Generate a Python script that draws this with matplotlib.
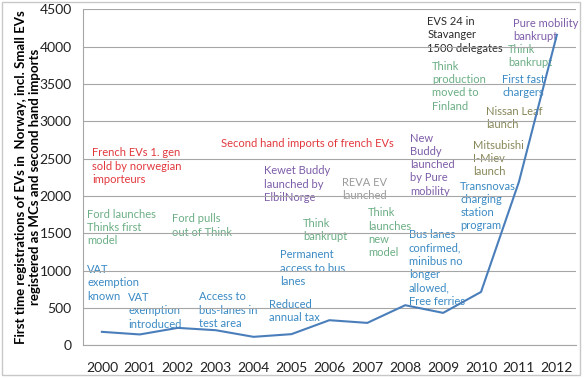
import matplotlib.pyplot as plt
from matplotlib.patches import Rectangle

years = ['2000', '2001', '2002', '2003', '2004', '2005', '2006',
         '2007', '2008', '2009', '2010', '2011', '2012']
registrations = [178, 143, 231, 200, 111, 147, 334, 298, 535, 432, 713, 2190, 4160]

# text notes: (label, x position in category units, y value, colour key)
notes = [
    ("French EVs 1. gen\nsold by norwegian\nimporteurs", -0.26, 2650, 'red'),
    ("Second hand imports of french EVs", 3.14, 2780, 'red'),
    ("Kewet Buddy\nlaunched by\nElbilNorge", 4.28, 2410, 'purple'),
    ("REVA EV\nlaunched", 6.33, 2260, 'gray'),
    ("New\nBuddy\nlaunched\nby Pure\nmobility", 8.13, 2850, 'purple'),
    ("EVS 24 in\nStavanger\n1500 delegates", 8.58, 4410, 'dark'),
    ("Pure mobility\nbankrupt", 10.85, 4385, 'purple'),
    ("Think\nbankrupt", 10.71, 4040, 'green'),
    ("Think\nproduction\nmoved to\nFinland", 8.71, 3810, 'green'),
    ("First fast\nchargers", 10.56, 3640, 'blue'),
    ("Nissan Leaf\nlaunch", 10.13, 3210, 'olive'),
    ("Mitsubishi\nI-Miev\nlaunch", 9.79, 2755, 'olive'),
    ("Transnovas\ncharging\nstation\nprogram", 9.45, 2205, 'blue'),
    ("Ford launches\nThinks first\nmodel", -0.39, 1830, 'green'),
    ("Ford pulls\nout of Think", 1.85, 1765, 'green'),
    ("Think\nbankrupt", 5.30, 1710, 'green'),
    ("Think\nlaunches\nnew\nmodel", 7.02, 1845, 'green'),
    ("Permanent\naccess to bus\nlanes", 4.70, 1285, 'blue'),
    ("Bus lanes\nconfirmed,\nminibus no\nlonger\nallowed,\nFree ferries", 8.10, 1550, 'blue'),
    ("VAT\nexemption\nknown", -0.39, 1085, 'blue'),
    ("VAT\nexemption\nintroduced", 0.69, 710, 'blue'),
    ("Access to\nbus-lanes in\ntest area", 2.56, 722, 'blue'),
    ("Reduced\nannual tax", 4.41, 615, 'blue'),
]

colors = {'red': '#e2383d', 'purple': '#7d5ca8', 'green': '#6bae84',
          'blue': '#3a8ac4', 'olive': '#88875a', 'gray': '#9a9a9a',
          'dark': '#2b2b2b'}

plt.rcParams['font.family'] = ['Lato', 'DejaVu Sans']

fig = plt.figure(figsize=(5.84, 3.78), dpi=100)
fig.patches.append(Rectangle((0.003, 0.008), 0.99, 0.986, transform=fig.transFigure,
                             fill=False, edgecolor='#c8c8c8', linewidth=1))
ax = fig.add_axes([0.142, 0.087, 0.844, 0.888])

x = list(range(len(years)))
ax.plot(x, registrations, color='#4a7ebb', linewidth=1.5, zorder=3)

for label, nx_, ny, c in notes:
    ax.text(nx_, ny, label, color=colors[c], fontsize=8, ha='left', va='top',
            linespacing=1.25, zorder=1)

ax.set_xlim(-0.5, len(years) - 0.5)
ax.set_ylim(0, 4500)
ax.set_yticks(range(0, 4501, 500))
ax.set_xticks(x)
ax.set_xticklabels(years)
ax.tick_params(axis='both', length=0, labelsize=10, colors='#222222')
ax.tick_params(axis='x', pad=12)
ax.tick_params(axis='y', pad=8)
ax.grid(axis='y', color='#a6a6a6', linewidth=0.8)
for s in ['top', 'right']:
    ax.spines[s].set_visible(False)
for s in ['left', 'bottom']:
    ax.spines[s].set_color('#a6a6a6')
    ax.spines[s].set_linewidth(0.8)

ax.set_ylabel("First time registrations of EVs in  Norway, incl. Small EVs\n"
              "registered as MCs and second hand imports",
              fontsize=9.5, fontweight='bold', labelpad=-1, linespacing=1.15)

fig.savefig('out.png', dpi=100)
